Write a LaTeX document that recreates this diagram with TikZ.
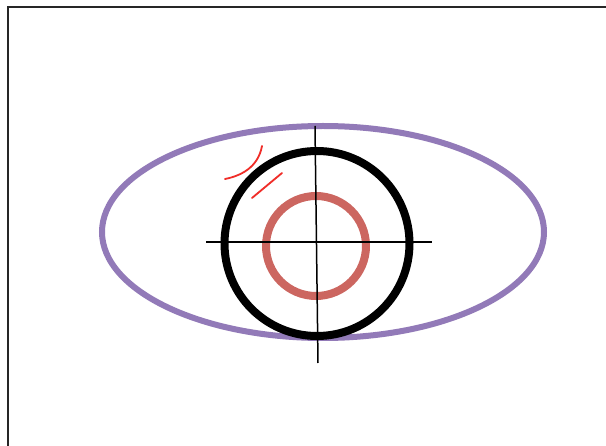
\documentclass[tikz,border=0pt]{standalone}
\begin{document}
\begin{tikzpicture}[x=1pt,y=-1pt,
  frameline/.style={line width=2pt,black!85},
  eyeline/.style={line width=6pt,color=eyepurple},
  irisline/.style={line width=8pt,black},
  pupilline/.style={line width=8pt,color=pupilred},
  axisline/.style={line width=1.5pt,black},
  scribble/.style={line width=1.8pt,color=scribred,line cap=round}]
\definecolor{eyepurple}{RGB}{146,122,184}
\definecolor{pupilred}{RGB}{204,102,96}
\definecolor{scribred}{RGB}{240,45,40}
\useasboundingbox (0,0) rectangle (606,446);
\fill[white] (0,0) rectangle (606,446);
\coordinate (fbl) at (7.5,447);
\coordinate (ftl) at (7.5,7);
\coordinate (ftr) at (607,7);
\draw[frameline] (fbl) -- (ftl) -- (ftr);
\coordinate (ec) at (323,232);
\draw[eyeline] (ec) ellipse [x radius=221, y radius=106];
\coordinate (cc) at (317,243.5);
\draw[irisline] (cc) circle [radius=92.5];
\coordinate (pc) at (316,246);
\draw[pupilline] (pc) circle [radius=50];
\coordinate (hl) at (206,242);
\coordinate (hr) at (432,242);
\draw[axisline] (hl) -- (hr);
\coordinate (vt) at (315,126);
\coordinate (vb) at (318,363);
\draw[axisline] (vt) -- (vb);
\coordinate (s1a) at (225,179);
\coordinate (s1b) at (262,146);
\draw[scribble] (s1a) .. controls (240,176) and (258,168) .. (s1b);
\coordinate (s2a) at (252,198);
\coordinate (s2b) at (282,173);
\draw[scribble] (s2a) -- (s2b);
\end{tikzpicture}
\end{document}
